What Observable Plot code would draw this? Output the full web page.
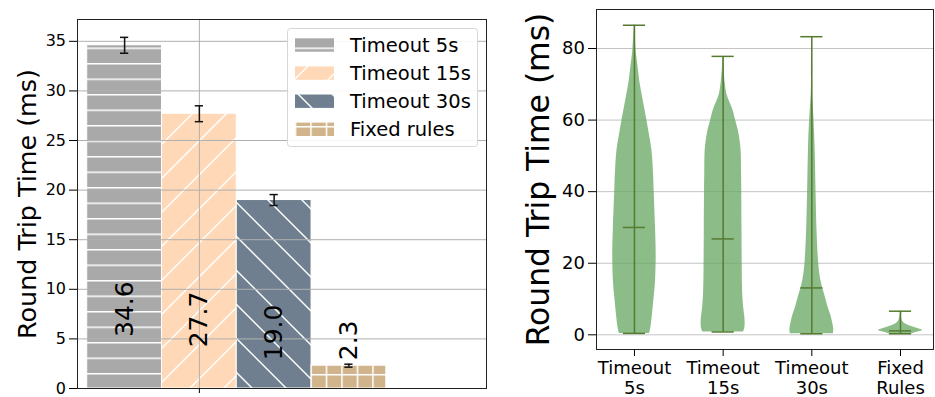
<!DOCTYPE html>
<html><head><meta charset="utf-8">
<script src="https://cdn.jsdelivr.net/npm/d3@7"></script>
<script src="https://cdn.jsdelivr.net/npm/@observablehq/plot@0.6"></script>
<style>
body{margin:0;background:#fff;}
#wrap{display:flex;width:935px;height:397px;overflow:hidden;font-family:"DejaVu Sans";}
#wrap svg{flex:none;}
</style></head><body><div id="wrap"></div>
<script>
// ---------- data (left: bar chart) ----------
const barCategories = ["Timeout 5s", "Timeout 15s", "Timeout 30s", "Fixed rules"];
const barValues = [34.6, 27.7, 19.0, 2.3];
const barErrors = [0.8, 0.8, 0.55, 0.15];
const barTicksY = [0, 5, 10, 15, 20, 25, 30, 35];

// ---------- data (right: violin chart) ----------
const violinCategories = ["Timeout\n5s", "Timeout\n15s", "Timeout\n30s", "Fixed\nRules"];
const violinMax = [86.5, 77.8, 83.3, 6.6];
const violinMin = [0.4, 0.8, 0.3, 0.3];
const violinMedian = [30.0, 26.8, 13.1, 1.1];
const violinTicksY = [0, 20, 40, 60, 80];
// density profiles: [value, relative half-width 0..1]
const violin5s = [[86.5,.01],[82,.05],[79,.08],[75,.16],[70,.26],[65,.41],[60,.56],[55,.70],[51.5,.79],[45,.86],[40,.89],[30,.95],[22,.98],[15,.95],[10,.88],[5,.80],[2,.74],[0.4,.68]];
const violin15s = [[77.8,.01],[74,.04],[70,.10],[67,.18],[63,.43],[60,.56],[56,.72],[51.5,.81],[45,.83],[40,.84],[30,.85],[20,.86],[12,.88],[8,.92],[4,.99],[2,.98],[0.8,.92]];
const violin30s = [[83.3,.01],[72,.015],[67,.03],[63,.07],[60,.10],[52,.15],[40,.19],[28,.24],[20,.31],[17,.36],[14,.45],[11,.59],[8,.72],[5,.88],[3,.95],[1.5,.99],[0.3,.97]];
const violinFixed = [[6.6,.01],[5.5,.02],[4.5,.05],[3.8,.09],[3,.23],[2.3,.5],[1.8,.77],[1.3,1.0],[0.9,.86],[0.5,.63],[0.3,.5]];

const FONT = "DejaVu Sans";
const wrap = document.getElementById("wrap");

// ---------- left chart ----------
const bars = barCategories.map((c, i) => ({c, i, v: barValues[i], e: barErrors[i], pat: `url(#hatch${i})`}));
const capW = 0.055;
const left = Plot.plot({
  width: 490, height: 397,
  marginLeft: 77, marginRight: 4, marginTop: 19, marginBottom: 9,
  x: {type: "linear", domain: [-1.63, 3.84], axis: null},
  y: {domain: [0, 37.2], axis: null},
  color: {type: "identity"},
  style: {fontFamily: FONT, color: "#000", background: "transparent", overflow: "visible"},
  marks: [
    Plot.rectY(bars, {x1: d => d.i - 1.5, x2: d => d.i - 0.5, y1: 0, y2: "v", fill: "pat", stroke: "#fff", strokeWidth: 1}),
    Plot.gridY({ticks: barTicksY, stroke: "#b0b0b0", strokeOpacity: 1, strokeWidth: 1}),
    Plot.gridX({ticks: [0], stroke: "#b0b0b0", strokeOpacity: 1, strokeWidth: 1}),
    Plot.ruleX(bars, {x: d => d.i - 1, y1: d => d.v - d.e, y2: d => d.v + d.e, stroke: "#111", strokeWidth: 1.5}),
    Plot.ruleY(bars, {y: d => d.v + d.e, x1: d => d.i - 1 - capW, x2: d => d.i - 1 + capW, stroke: "#111", strokeWidth: 1.5}),
    Plot.ruleY(bars, {y: d => d.v - d.e, x1: d => d.i - 1 - capW, x2: d => d.i - 1 + capW, stroke: "#111", strokeWidth: 1.5}),
    Plot.text(bars, {x: d => d.i - 1, y: d => d.v < 5 ? d.v + 0.55 : d.v * 0.15, text: d => d.v.toFixed(1),
      rotate: -90, textAnchor: "start", lineAnchor: "middle", fontSize: 25, fill: "#000"}),
    Plot.frame({stroke: "#222", strokeWidth: 1}),
    Plot.axisY({ticks: barTicksY, tickSize: 8, tickPadding: 3.5, fontSize: 16, label: null}),
    Plot.axisX({ticks: [0], tickSize: 5, tickFormat: () => "", label: null}),
    Plot.text(["Round Trip Time (ms)"], {text: d => d, frameAnchor: "left", rotate: -90, dx: -42, textAnchor: "middle", lineAnchor: "bottom", fontSize: 25.4, fill: "#000"})
  ]
});
wrap.appendChild(left);

// hatch patterns
const defs = d3.select(left).insert("defs", ":first-child");
function pattern(id, w, h, bg, ox = 0, oy = 0) {
  const p = defs.append("pattern").attr("id", id).attr("patternUnits", "userSpaceOnUse")
    .attr("width", w).attr("height", h).attr("x", ox).attr("y", oy);
  p.append("rect").attr("width", w).attr("height", h).attr("fill", bg);
  return p;
}
const L = (p, x1, y1, x2, y2, sw = 1.4) => p.append("line").attr("x1", x1).attr("y1", y1).attr("x2", x2).attr("y2", y2)
  .attr("stroke", "#fff").attr("stroke-width", sw);
{
  const p0 = pattern("hatch0", 10, 15.5, "#a9a9a9", 0, 1);
  L(p0, 0, 0.75, 10, 0.75, 1.5);
  const s = 34;
  const p1 = pattern("hatch1", s, s, "#ffd9b7");
  L(p1, 0, s, s, 0); L(p1, -2, 2, 2, -2); L(p1, s - 2, s + 2, s + 2, s - 2);
  const p2 = pattern("hatch2", s, s, "#6f7f8f");
  L(p2, 0, 0, s, s); L(p2, -2, s - 2, 2, s + 2); L(p2, s - 2, -2, s + 2, 2);
  const p3 = pattern("hatch3", 15.5, 15.5, "#d2b48c", 0.2, 2);
  L(p3, 0, 0.75, 15.5, 0.75, 1.5); L(p3, 0.75, 0, 0.75, 15.5, 1.5);
}

// legend
const lg = d3.select(left).append("g").attr("font-family", FONT).attr("text-anchor", "start");
lg.append("rect").attr("x", 287.5).attr("y", 28.5).attr("width", 190).attr("height", 118).attr("rx", 3)
  .attr("fill", "#fff").attr("fill-opacity", 0.9).attr("stroke", "#d6d6d6");
barCategories.forEach((c, i) => {
  const cy = 45 + i * 28.1;
  lg.append("rect").attr("x", 295).attr("y", cy - 6.7).attr("width", 39).attr("height", 13.4).attr("fill", `url(#hatch${i})`);
  lg.append("text").attr("x", 350).attr("y", cy + 6.8).attr("font-size", 19.5).attr("fill", "#000")
    .attr("text-anchor", "start").text(c);
});

// ---------- right chart ----------
const violinProfiles = [violin5s, violin15s, violin30s, violinFixed];
const vrows = violinProfiles.flatMap((prof, i) => prof.map(([v, w]) => ({i, pos: i + 1, v, w})));
const vstats = violinCategories.map((c, i) => ({c, pos: i + 1, max: violinMax[i], min: violinMin[i], med: violinMedian[i]}));
const LINE = "#557a30";
const vcap = 0.125;
const right = Plot.plot({
  width: 445, height: 397,
  marginLeft: 106, marginRight: 2, marginTop: 9, marginBottom: 48,
  x: {type: "linear", domain: [0.572, 4.372], axis: null},
  y: {domain: [-4.1, 90.9], axis: null},
  style: {fontFamily: FONT, color: "#000", background: "transparent", overflow: "visible"},
  marks: [
    Plot.gridY({ticks: violinTicksY, stroke: "#c4c4c4", strokeOpacity: 1, strokeWidth: 1}),
    Plot.areaX(vrows, {y: "v", x1: d => d.pos - d.w * 0.25, x2: d => d.pos + d.w * 0.25, z: "i",
      fill: "#66a760", fillOpacity: 0.75, curve: "catmull-rom"}),
    Plot.ruleX(vstats, {x: "pos", y1: "min", y2: "max", stroke: LINE, strokeWidth: 1.5}),
    Plot.ruleY(vstats, {y: "max", x1: d => d.pos - vcap, x2: d => d.pos + vcap, stroke: LINE, strokeWidth: 1.5}),
    Plot.ruleY(vstats, {y: "min", x1: d => d.pos - vcap, x2: d => d.pos + vcap, stroke: LINE, strokeWidth: 1.5}),
    Plot.ruleY(vstats, {y: "med", x1: d => d.pos - vcap, x2: d => d.pos + vcap, stroke: LINE, strokeWidth: 1.5}),
    Plot.frame({stroke: "#222", strokeWidth: 1}),
    Plot.axisY({ticks: violinTicksY, tickSize: 8, tickPadding: 3.5, fontSize: 18, label: null}),
    Plot.axisX({ticks: [1, 2, 3, 4], tickFormat: d => violinCategories[d - 1], tickSize: 7, tickPadding: 4,
      fontSize: 18, lineHeight: 1.08, label: null}),
    Plot.text(["Round Trip Time (ms)"], {text: d => d, frameAnchor: "left", rotate: -90, dx: -47.7, textAnchor: "middle", lineAnchor: "bottom", fontSize: 31.4, fill: "#000"})
  ]
});
wrap.appendChild(right);
</script></body></html>
